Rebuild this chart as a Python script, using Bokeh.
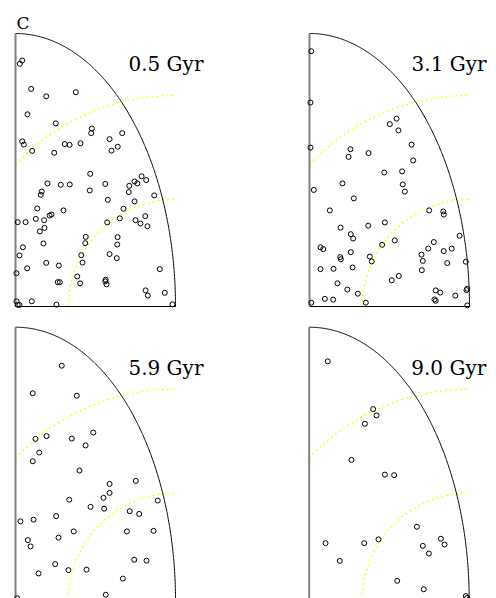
import numpy as np
from bokeh.plotting import figure
from bokeh.layouts import gridplot
from bokeh.models import Range1d
from bokeh.core.properties import value
from bokeh.embed import file_html
from bokeh.resources import INLINE

# ---------------- data (radius of the quarter disc = 1) ----------------
ages = ["0.5 Gyr", "3.1 Gyr", "5.9 Gyr", "9.0 Gyr"]
panel_letter = "C"

x_05 = [0.042, 0.027, 0.098, 0.192, 0.377, 0.075, 0.252, 0.477, 0.473, 0.588,
        0.667, 0.042, 0.052, 0.308, 0.338, 0.406, 0.639, 0.600, 0.104, 0.242,
        0.467, 0.200, 0.283, 0.339, 0.561, 0.164, 0.158, 0.464, 0.788, 0.817,
        0.744, 0.761, 0.711, 0.708, 0.867, 0.577, 0.744, 0.136, 0.300, 0.675,
        0.213, 0.225, 0.127, 0.179, 0.652, 0.014, 0.063, 0.573, 0.750, 0.781,
        0.811, 0.825, 0.181, 0.152, 0.439, 0.436, 0.638, 0.636, 0.175, 0.046,
        0.025, 0.411, 0.419, 0.588, 0.633, 0.192, 0.271, 0.073, 0.902, 0.006,
        0.386, 0.404, 0.264, 0.277, 0.564, 0.561, 0.569, 0.813, 0.827, 0.933,
        0.102, 0.006, 0.014, 0.025, 0.256, 0.981]
y_05 = [0.901, 0.889, 0.797, 0.770, 0.785, 0.704, 0.671, 0.652, 0.635, 0.613,
        0.635, 0.605, 0.593, 0.595, 0.592, 0.598, 0.585, 0.571, 0.570, 0.563,
        0.486, 0.451, 0.446, 0.447, 0.449, 0.421, 0.409, 0.425, 0.477, 0.463,
        0.458, 0.451, 0.442, 0.419, 0.407, 0.391, 0.385, 0.359, 0.352, 0.358,
        0.333, 0.337, 0.321, 0.316, 0.323, 0.309, 0.309, 0.308, 0.316, 0.304,
        0.331, 0.294, 0.288, 0.275, 0.255, 0.232, 0.254, 0.227, 0.231, 0.217,
        0.187, 0.188, 0.161, 0.192, 0.177, 0.160, 0.150, 0.140, 0.137, 0.122,
        0.110, 0.085, 0.089, 0.089, 0.098, 0.092, 0.081, 0.059, 0.040, 0.050,
        0.019, 0.019, 0.006, 0.006, 0.007, 0.008]

x_31 = [0.011, 0.006, 0.006, 0.544, 0.502, 0.556, 0.638, 0.256, 0.244, 0.369,
        0.648, 0.467, 0.579, 0.206, 0.583, 0.596, 0.027, 0.277, 0.127, 0.748,
        0.836, 0.839, 0.194, 0.367, 0.471, 0.258, 0.273, 0.533, 0.938, 0.777,
        0.069, 0.086, 0.454, 0.742, 0.889, 0.839, 0.258, 0.700, 0.192, 0.196,
        0.377, 0.389, 0.708, 0.861, 0.977, 0.069, 0.150, 0.269, 0.702, 0.558,
        0.514, 0.175, 0.236, 0.302, 0.789, 0.817, 0.781, 0.789, 0.911, 0.986,
        0.981, 0.096, 0.148, 0.011, 0.352, 0.986]
y_31 = [0.935, 0.747, 0.582, 0.688, 0.668, 0.645, 0.593, 0.576, 0.548, 0.562,
        0.535, 0.491, 0.495, 0.451, 0.447, 0.421, 0.427, 0.396, 0.352, 0.352,
        0.348, 0.337, 0.289, 0.296, 0.308, 0.265, 0.249, 0.242, 0.259, 0.236,
        0.217, 0.210, 0.226, 0.212, 0.212, 0.203, 0.199, 0.190, 0.181, 0.173,
        0.183, 0.165, 0.167, 0.159, 0.164, 0.137, 0.138, 0.143, 0.133, 0.112,
        0.096, 0.085, 0.062, 0.047, 0.059, 0.051, 0.026, 0.021, 0.040, 0.065,
        0.060, 0.028, 0.025, 0.014, 0.014, 0.004]

x_59 = [0.289, 0.108, 0.383, 0.486, 0.125, 0.194, 0.352, 0.438, 0.148, 0.108,
        0.400, 0.588, 0.752, 0.588, 0.550, 0.336, 0.889, 0.469, 0.554, 0.714,
        0.773, 0.254, 0.031, 0.113, 0.364, 0.696, 0.863, 0.077, 0.094, 0.269,
        0.742, 0.819, 0.248, 0.331, 0.444, 0.144, 0.671, 0.564, 0.011]
y_59 = [0.859, 0.758, 0.749, 0.614, 0.591, 0.601, 0.592, 0.567, 0.541, 0.509,
        0.475, 0.426, 0.437, 0.393, 0.375, 0.368, 0.365, 0.342, 0.335, 0.326,
        0.316, 0.308, 0.289, 0.295, 0.252, 0.252, 0.254, 0.220, 0.197, 0.229,
        0.148, 0.145, 0.132, 0.110, 0.112, 0.098, 0.079, 0.020, 0.007]

x_90 = [0.116, 0.400, 0.421, 0.348, 0.264, 0.473, 0.531, 0.673, 0.823, 0.846,
        0.710, 0.748, 0.102, 0.344, 0.433, 0.191, 0.550, 0.716, 0.979, 0.986]
y_90 = [0.875, 0.700, 0.677, 0.646, 0.514, 0.460, 0.458, 0.269, 0.225, 0.204,
        0.199, 0.171, 0.209, 0.209, 0.223, 0.144, 0.071, 0.040, 0.015, 0.008]

series = [(x_05, y_05), (x_31, y_31), (x_59, y_59), (x_90, y_90)]

# reference (yellow dotted) curves: centre x, centre y, radius x, radius y
ref_curves = [(1.0, -0.033, 1.375, 0.806), (1.0, 0.0, 0.669, 0.392)]

# ---------------- layout (pixels) ----------------
PX_X = 160.0   # pixels per unit horizontally
PX_Y = 273.0   # pixels per unit vertically
# width, height, data-origin offset from left, data-origin offset from bottom
frames = [(248, 316, 15.0, 10.0), (248, 316, 61.0, 10.0),
          (248, 282, 15.0, -1.7), (248, 282, 60.7, -1.7)]
label_pos = [(0.706, 0.890), (0.638, 0.890), (0.706, 0.849), (0.638, 0.849)]

figs = []
for i, ((xs, ys), (w, h, ox, oy)) in enumerate(zip(series, frames)):
    p = figure(width=w, height=h, output_backend="svg", toolbar_location=None,
               x_axis_location=None, y_axis_location=None,
               x_range=Range1d(-ox / PX_X, (w - ox) / PX_X),
               y_range=Range1d(-oy / PX_Y, (h - oy) / PX_Y),
               min_border=0, outline_line_color=None,
               background_fill_color="white", border_fill_color="white")
    p.grid.visible = False

    # yellow dotted reference arcs
    for cx, cy, rx, ry in ref_curves:
        phi0 = np.arccos(min(1.0, cx / rx))
        phi = np.linspace(phi0, np.pi / 2, 200)
        p.line(cx - rx * np.cos(phi), cy + ry * np.sin(phi),
               line_color="#ffff00", line_width=1.3, line_dash="2 3")

    # quarter disc boundary
    t = np.linspace(0, np.pi / 2, 300)
    p.line(np.cos(t), np.sin(t), line_color="black", line_width=1)
    p.line([0, 1], [0, 0], line_color="black", line_width=1.2)
    p.line([0, 0], [0, 1], line_color="#808080", line_width=2)

    p.scatter(xs, ys, marker="circle", size=5, fill_color=None,
              line_color="black", line_width=1)

    lx, ly = label_pos[i]
    p.text(x=[lx], y=[ly], text=[ages[i]], text_font=value("DejaVu Serif"),
           text_font_size="20px", text_color="black",
           text_align="left", text_baseline="alphabetic")
    if i == 0:
        p.text(x=[0.006], y=[1.037], text=[panel_letter],
               text_font=value("DejaVu Serif"), text_font_size="17px",
               text_color="black", text_align="left",
               text_baseline="alphabetic")
    figs.append(p)

grid = gridplot([[figs[0], figs[1]], [figs[2], figs[3]]],
                toolbar_location=None)

open("out.html", "w").write(file_html(grid, INLINE))
